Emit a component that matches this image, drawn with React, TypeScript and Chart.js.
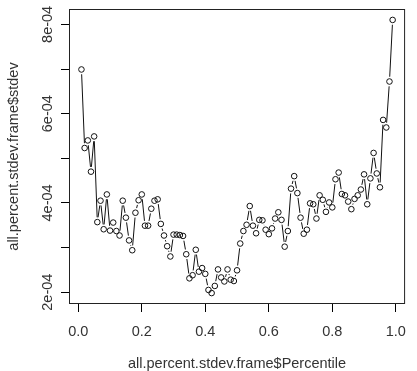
import React, { useEffect, useRef } from "react";
import { Chart, registerables } from "chart.js";

Chart.register(...registerables);

const percentiles = [
  0.01, 0.02, 0.03, 0.04, 0.05, 0.06, 0.07, 0.08, 0.09, 0.1,
  0.11, 0.12, 0.13, 0.14, 0.15, 0.16, 0.17, 0.18, 0.19, 0.2,
  0.21, 0.22, 0.23, 0.24, 0.25, 0.26, 0.27, 0.28, 0.29, 0.3,
  0.31, 0.32, 0.33, 0.34, 0.35, 0.36, 0.37, 0.38, 0.39, 0.4,
  0.41, 0.42, 0.43, 0.44, 0.45, 0.46, 0.47, 0.48, 0.49, 0.5,
  0.51, 0.52, 0.53, 0.54, 0.55, 0.56, 0.57, 0.58, 0.59, 0.6,
  0.61, 0.62, 0.63, 0.64, 0.65, 0.66, 0.67, 0.68, 0.69, 0.7,
  0.71, 0.72, 0.73, 0.74, 0.75, 0.76, 0.77, 0.78, 0.79, 0.8,
  0.81, 0.82, 0.83, 0.84, 0.85, 0.86, 0.87, 0.88, 0.89, 0.9,
  0.91, 0.92, 0.93, 0.94, 0.95, 0.96, 0.97, 0.98, 0.99,
];

// stdev values in units of 1e-4
const stdevE4 = [
  6.99, 5.23, 5.40, 4.70, 5.49, 3.57, 4.05, 3.41, 4.19, 3.38,
  3.56, 3.37, 3.27, 4.05, 3.67, 3.16, 2.94, 3.78, 4.06, 4.19,
  3.49, 3.49, 3.87, 4.05, 4.08, 3.53, 3.27, 3.03, 2.80, 3.29,
  3.29, 3.28, 3.26, 2.85, 2.31, 2.38, 2.95, 2.46, 2.54, 2.41,
  2.05, 1.98, 2.14, 2.51, 2.33, 2.24, 2.51, 2.28, 2.25, 2.49,
  3.09, 3.37, 3.51, 3.93, 3.49, 3.32, 3.62, 3.61, 3.40, 3.30,
  3.43, 3.65, 3.79, 3.62, 3.02, 3.37, 4.32, 4.60, 4.22, 3.67,
  3.31, 3.40, 3.99, 3.97, 3.65, 4.17, 4.07, 3.80, 4.01, 3.90,
  4.53, 4.68, 4.20, 4.17, 4.03, 3.86, 4.09, 4.17, 4.30, 4.64,
  3.97, 4.55, 5.12, 4.66, 4.35, 5.86, 5.69, 6.72, 8.10,
];

const xTicks = [0, 0.2, 0.4, 0.6, 0.8, 1.0];
const xTickLabels = ["0.0", "0.2", "0.4", "0.6", "0.8", "1.0"];
const yTicks = [2e-4, 3e-4, 4e-4, 5e-4, 6e-4, 7e-4, 8e-4];
const yLabelTicks = [2e-4, 4e-4, 6e-4, 8e-4];
const yTickLabels = ["2e-04", "4e-04", "6e-04", "8e-04"];

const xTitle = "all.percent.stdev.frame$Percentile";
const yTitle = "all.percent.stdev.frame$stdev";

const FONT = "'Liberation Sans', Arial, Helvetica, sans-serif";
const FONT_SIZE = 14.5;
const TEXT_COLOR = "#333";

function rRange(vals: number[]) {
  const mn = Math.min(...vals);
  const mx = Math.max(...vals);
  const ext = (mx - mn) * 0.04;
  return [mn - ext, mx + ext];
}

export default function App() {
  const ref = useRef<HTMLCanvasElement | null>(null);

  useEffect(() => {
    document.body.style.margin = "0";
    const canvas = ref.current;
    if (!canvas) return;

    const yVals = stdevE4.map((v) => v * 1e-4);
    const points = percentiles.map((p, i) => ({ x: p, y: yVals[i] }));
    const [xMin, xMax] = rRange(percentiles);
    const [yMin, yMax] = rRange(yVals);

    const rPlot = {
      id: "rPlot",
      beforeDatasetsDraw(chart: any) {
        const ctx = chart.ctx;
        const meta = chart.getDatasetMeta(0);
        const gap = 4.8;
        ctx.save();
        ctx.strokeStyle = "#111";
        ctx.lineWidth = 1;
        ctx.beginPath();
        for (let i = 0; i < meta.data.length - 1; i++) {
          const a = meta.data[i];
          const b = meta.data[i + 1];
          const dx = b.x - a.x;
          const dy = b.y - a.y;
          const len = Math.hypot(dx, dy);
          if (len <= 2 * gap) continue;
          const ux = dx / len;
          const uy = dy / len;
          ctx.moveTo(a.x + ux * gap, a.y + uy * gap);
          ctx.lineTo(b.x - ux * gap, b.y - uy * gap);
        }
        ctx.stroke();
        ctx.restore();
      },
      afterDraw(chart: any) {
        const ctx = chart.ctx;
        const { left, top, right, bottom } = chart.chartArea;
        ctx.save();
        ctx.strokeStyle = "#222";
        ctx.lineWidth = 1;
        ctx.strokeRect(left + 0.5, top + 0.5, right - left - 1, bottom - top - 1);
        // rotated y tick labels (R style, parallel to axis)
        const ys = chart.scales.y;
        ctx.fillStyle = TEXT_COLOR;
        ctx.font = `${FONT_SIZE}px ${FONT}`;
        ctx.textAlign = "center";
        ctx.textBaseline = "alphabetic";
        yLabelTicks.forEach((v, i) => {
          const py = ys.getPixelForValue(v);
          ctx.save();
          ctx.translate(52, py);
          ctx.rotate(-Math.PI / 2);
          ctx.fillText(yTickLabels[i], 0, 0);
          ctx.restore();
        });
        ctx.restore();
      },
    };

    const chart = new Chart(canvas, {
      type: "scatter",
      data: {
        datasets: [
          {
            data: points,
            showLine: false,
            pointRadius: 2.8,
            pointHoverRadius: 2.8,
            pointBorderWidth: 1,
            pointBorderColor: "#111",
            pointBackgroundColor: "rgba(0,0,0,0)",
          },
        ],
      },
      options: {
        animation: false,
        responsive: true,
        maintainAspectRatio: false,
        layout: { padding: { top: 9, right: 1, left: 0, bottom: 0 } },
        plugins: {
          legend: { display: false },
          tooltip: { enabled: false },
        },
        events: [],
        scales: {
          x: {
            type: "linear",
            min: xMin,
            max: xMax,
            afterBuildTicks: (scale: any) => {
              scale.ticks = xTicks.map((v) => ({ value: v }));
            },
            afterFit: (scale: any) => {
              scale.height = 67;
            },
            grid: {
              display: true,
              drawOnChartArea: false,
              drawTicks: true,
              tickLength: 8,
              color: "#000",
            },
            border: { display: false },
            ticks: {
              autoSkip: false,
              maxRotation: 0,
              minRotation: 0,
              padding: 11,
              color: TEXT_COLOR,
              font: { family: FONT, size: FONT_SIZE },
              callback: (value: any) => {
                const idx = xTicks.indexOf(Number(value));
                return idx >= 0 ? xTickLabels[idx] : "";
              },
            },
            title: {
              display: true,
              text: xTitle,
              color: TEXT_COLOR,
              font: { family: FONT, size: FONT_SIZE },
              padding: { top: 0, bottom: -2 },
            },
          },
          y: {
            type: "linear",
            min: yMin,
            max: yMax,
            afterBuildTicks: (scale: any) => {
              scale.ticks = yTicks.map((v) => ({ value: v }));
            },
            afterFit: (scale: any) => {
              scale.width = 69;
            },
            grid: {
              display: true,
              drawOnChartArea: false,
              drawTicks: true,
              tickLength: 8,
              color: "#000",
            },
            border: { display: false },
            ticks: { display: false },
            title: {
              display: true,
              text: yTitle,
              color: TEXT_COLOR,
              font: { family: FONT, size: FONT_SIZE },
              padding: { top: 5, bottom: 0 },
            },
          },
        },
      },
      plugins: [rPlot],
    } as any);

    return () => chart.destroy();
  }, []);

  return (
    <div style={{ width: 417, height: 371, position: "relative" }}>
      <canvas ref={ref} />
    </div>
  );
}
